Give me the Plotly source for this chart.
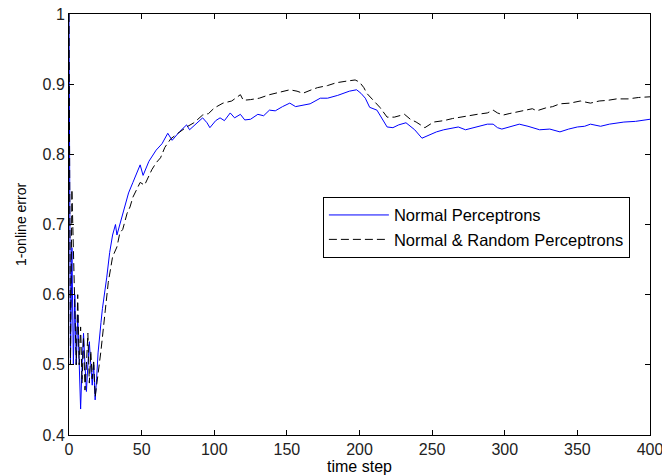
import plotly.graph_objects as go

# Normal Perceptrons (blue solid)
blue_t = [0, 1, 2, 3, 4, 5, 6, 7, 8, 9, 10, 11, 12, 13, 14, 15, 16, 17, 18, 19, 20,
          22, 23, 26, 28, 30, 32, 33, 35, 37, 41, 44, 47, 49, 51, 55, 60, 64, 68, 71,
          76, 81, 83, 88, 92, 95, 97, 101, 104, 107, 111, 114, 118, 121, 125, 130,
          134, 138, 142, 147, 152, 156, 161, 166, 173, 178, 185, 193, 198, 201, 204,
          207, 212, 215, 219, 223, 227, 232, 235, 238, 243, 248, 253, 258, 263, 268,
          273, 278, 283, 288, 292, 295, 298, 304, 310, 316, 320, 324, 331, 338, 344,
          350, 355, 359, 366, 372, 382, 390, 400]
blue_v = [1.0, 0.5, 0.667, 0.5, 0.6, 0.5, 0.571, 0.5, 0.437, 0.5, 0.545, 0.5, 0.462,
          0.5, 0.533, 0.5, 0.471, 0.5, 0.45, 0.48, 0.517,
          0.56, 0.58, 0.625, 0.66, 0.685, 0.70, 0.685, 0.70, 0.716, 0.745, 0.76, 0.775,
          0.785, 0.77, 0.79, 0.806, 0.815, 0.83, 0.82,
          0.832, 0.842, 0.835, 0.845, 0.852, 0.845, 0.838, 0.848, 0.852, 0.848, 0.859,
          0.852, 0.857, 0.849, 0.85, 0.857,
          0.855, 0.863, 0.862, 0.868, 0.873, 0.868, 0.87, 0.872, 0.88, 0.88, 0.884,
          0.89, 0.892, 0.887, 0.88,
          0.867, 0.863, 0.852, 0.839, 0.838, 0.842, 0.845, 0.84, 0.835, 0.823, 0.828,
          0.832, 0.835, 0.837, 0.839,
          0.835, 0.838, 0.84, 0.843, 0.843, 0.838, 0.836, 0.84, 0.843, 0.84, 0.837,
          0.835, 0.836, 0.832, 0.836,
          0.839, 0.84, 0.843, 0.84, 0.843, 0.846, 0.847, 0.85]

# Normal & Random Perceptrons (black dashed)
black_t = [0, 1, 2, 3, 4, 5, 6, 7, 8, 9, 10, 11, 12, 13, 14, 15, 16, 17, 18, 19, 20,
           22, 25, 27, 30, 33, 35, 37, 40, 42, 44, 49, 52, 57, 60, 63, 66, 70, 75, 81,
           86, 92, 96, 100, 106, 112, 118, 120, 125, 131, 138, 145, 152, 157, 161, 167,
           171, 178, 184, 190, 197, 200, 203, 205, 210, 214, 219, 224, 231, 235, 239,
           245, 251, 258, 264, 269, 275, 281, 288, 292, 295, 299, 303, 307, 313, 319,
           322, 328, 333, 338, 345, 352, 359, 365, 371, 377, 385, 392, 400]
black_v = [1.0, 0.5, 0.75, 0.667, 0.6, 0.5, 0.6, 0.5, 0.554, 0.474, 0.54, 0.464, 0.5,
           0.545, 0.474, 0.52, 0.48, 0.507, 0.454, 0.47, 0.483,
           0.52, 0.578, 0.617, 0.654, 0.668, 0.688, 0.693, 0.716, 0.725, 0.739, 0.76,
           0.756, 0.778, 0.788, 0.795, 0.81, 0.822, 0.83, 0.839,
           0.845, 0.856, 0.858, 0.866, 0.873, 0.876, 0.885, 0.877, 0.878, 0.88, 0.885,
           0.888, 0.892, 0.89, 0.887, 0.892,
           0.895, 0.898, 0.902, 0.904, 0.906, 0.903, 0.895, 0.887, 0.875, 0.867, 0.853,
           0.853, 0.857, 0.85, 0.846,
           0.838, 0.846, 0.848, 0.851, 0.853, 0.855, 0.857, 0.859, 0.863, 0.859, 0.856,
           0.858, 0.86, 0.862, 0.865,
           0.862, 0.866, 0.868, 0.872, 0.873, 0.876, 0.873, 0.876, 0.877, 0.879, 0.879,
           0.881, 0.882]

x_ticks = [0, 50, 100, 150, 200, 250, 300, 350, 400]
y_ticks = [0.4, 0.5, 0.6, 0.7, 0.8, 0.9, 1.0]
y_tick_text = ["0.4", "0.5", "0.6", "0.7", "0.8", "0.9", "1"]

FONT = "Liberation Sans, Arial, Helvetica, sans-serif"

fig = go.Figure()
fig.add_trace(go.Scatter(x=blue_t, y=blue_v, mode="lines", name="Normal Perceptrons",
                         line=dict(color="#0000ff", width=1)))
fig.add_trace(go.Scatter(x=black_t, y=black_v, mode="lines",
                         name="Normal & Random Perceptrons",
                         line=dict(color="#000000", width=1, dash="8px,4px")))

axis_common = dict(showline=True, linecolor="black", linewidth=1, mirror="ticks",
                   ticks="inside", ticklen=5, tickcolor="black", showgrid=False,
                   zeroline=False, automargin=False, ticklabeloverflow="allow",
                   tickfont=dict(family=FONT, size=16, color="#222222"))

fig.update_layout(
    width=662, height=475,
    margin=dict(l=69, r=12, t=14, b=40),
    paper_bgcolor="white", plot_bgcolor="white",
    font=dict(family=FONT, size=16, color="black"),
    xaxis=dict(range=[0, 400], tickvals=x_ticks,
               title=dict(text="time step", font=dict(family=FONT, size=16), standoff=0),
               **axis_common),
    yaxis=dict(range=[0.4, 1.0], tickvals=y_ticks, ticktext=y_tick_text,
               title=dict(text="1-online error", font=dict(family=FONT, size=14), standoff=12),
               **axis_common),
    legend=dict(x=0.437, y=0.566, xanchor="left", yanchor="top",
                bgcolor="white", bordercolor="black", borderwidth=1,
                font=dict(family=FONT, size=16.5, color="black"),
                itemwidth=60, tracegroupgap=0),
    showlegend=True,
)

fig.write_html("out.html",
               config={"displayModeBar": False},
               post_script="document.body.style.margin='0px';document.body.style.overflow='hidden';")
